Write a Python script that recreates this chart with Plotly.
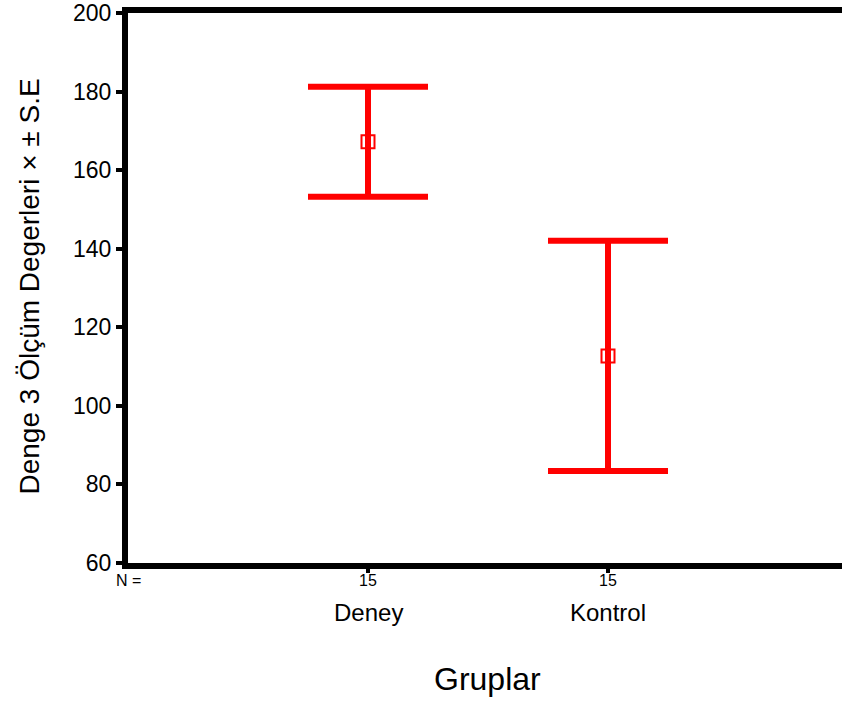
import plotly.graph_objects as go

categories = ["Deney", "Kontrol"]
n_values = ["15", "15"]
means = [167.2, 112.7]
se = [14.0, 29.3]
xpos = [1, 2]

FONT = "Liberation Sans, Arial"
fig = go.Figure()
fig.add_trace(go.Scatter(
    x=xpos, y=means, mode="markers",
    marker=dict(symbol="square-open", size=13, color="#ff0000", line=dict(width=2, color="#ff0000")),
    error_y=dict(type="data", array=se, visible=True, color="#ff0000", thickness=6, width=60),
    showlegend=False, hoverinfo="skip",
))

for x, n, c in zip(xpos, n_values, categories):
    fig.add_annotation(x=x, y=-0.031, xref="x", yref="paper", text=n, showarrow=False,
                       font=dict(size=16, color="black", family=FONT), yanchor="middle")
    fig.add_annotation(x=x, y=-0.09, xref="x", yref="paper", text=c, showarrow=False,
                       font=dict(size=24, color="black", family=FONT), yanchor="middle")
fig.add_annotation(x=0, y=-0.031, xref="paper", yref="paper", text="N =", showarrow=False,
                   font=dict(size=16, color="black", family=FONT), yanchor="middle", xanchor="center")
fig.add_annotation(x=(487 - 128) / 714, y=-0.2116, xref="paper", yref="paper", text="Gruplar", showarrow=False,
                   font=dict(size=32, color="black", family=FONT), yanchor="middle", xanchor="center")
fig.add_annotation(x=(30 - 128) / 714, y=(563 - 285) / 553, xref="paper", yref="paper",
                   text="Denge 3 Ölçüm Degerleri × ± S.E", textangle=-90, showarrow=False,
                   font=dict(size=28, color="black", family=FONT), yanchor="middle", xanchor="center")

fig.update_xaxes(range=[0, 2.975], showline=True, linewidth=6, linecolor="black", mirror=True,
                 tickvals=xpos, ticktext=["", ""], ticks="outside", ticklen=4, tickwidth=4,
                 tickcolor="black", showgrid=False, zeroline=False)
fig.update_yaxes(range=[60, 200], dtick=20, showline=True, linewidth=6, linecolor="black",
                 ticks="outside", ticklen=6, tickwidth=4, tickcolor="black",
                 showgrid=False, zeroline=False, ticklabeloverflow="allow",
                 tickfont=dict(size=23, color="black", family=FONT))

fig.update_layout(width=842, height=701, margin=dict(l=128, r=0, t=9, b=138),
                  plot_bgcolor="white", paper_bgcolor="white")
fig.write_html("out.html", post_script="document.body.style.margin='0';",
               config={"displayModeBar": False})
